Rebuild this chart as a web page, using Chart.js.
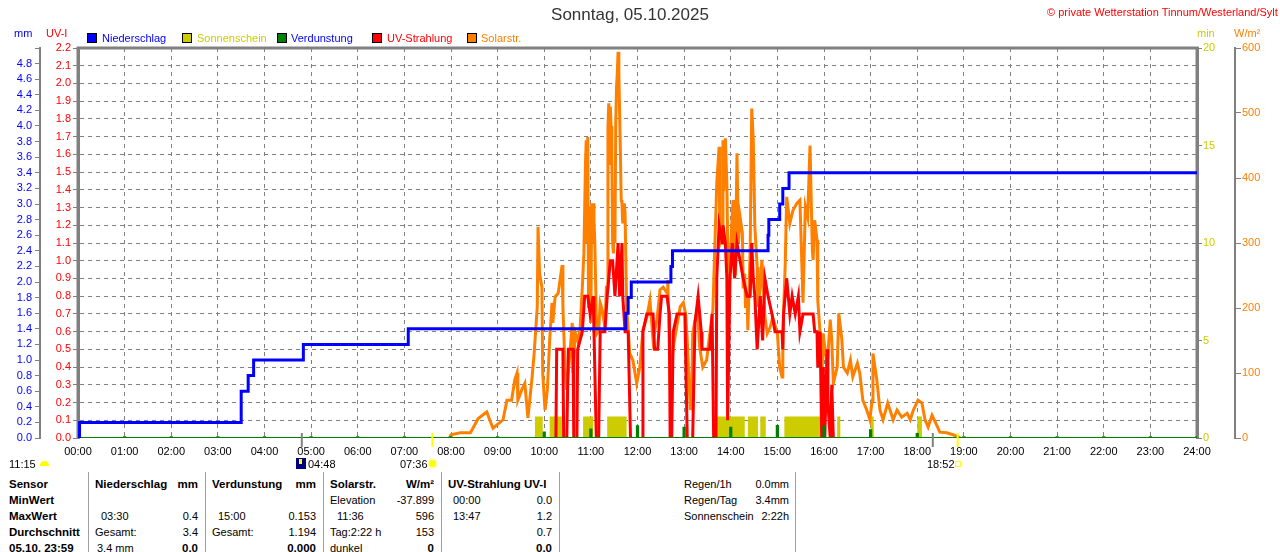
<!DOCTYPE html>
<html>
<head>
<meta charset="utf-8">
<script src="https://cdn.jsdelivr.net/npm/chart.js@4.4.0/dist/chart.umd.min.js"></script>
<style>
  body { margin: 0; background: #fff; font-family: "Liberation Sans", Arial, sans-serif; }
  #wrap { position: relative; width: 1280px; height: 552px; overflow: hidden; background: #fff; }
  #chartBox { position: absolute; left: 0; top: 0; }
  .t { position: absolute; white-space: nowrap; font-size: 11px; line-height: 14px; }
  .b { font-weight: bold; font-size: 11.5px; }
  .r { text-align: right; width: 200px; }
  .sep { position: absolute; top: 472px; height: 80px; width: 1px; background: #a0a0a0; }
  .box { position: absolute; top: 33px; width: 8px; height: 8px; border: 1px solid #000; }
</style>
</head>
<body>
<div id="wrap">
  <canvas id="chartBox" width="1280" height="472"></canvas>

  <div class="t" style="left:0;width:1260px;text-align:center;top:5px;font-size:17px;line-height:20px;color:#333">Sonntag, 05.10.2025</div>
  <div class="t" style="left:1047px;top:5px;color:#FF0000">© private Wetterstation Tinnum/Westerland/Sylt</div>

  <div class="t" style="left:14px;top:26px;color:#0000FF">mm</div>
  <div class="t" style="left:46px;top:26px;color:#FF0000">UV-I</div>
  <div class="t" style="left:1197px;top:26px;color:#CCCC00">min</div>
  <div class="t" style="left:1234px;top:26px;color:#FF8000">W/m²</div>

  <div class="box" style="left:87px;background:#0000FF"></div>
  <div class="t" style="left:102px;top:31px;color:#0000FF">Niederschlag</div>
  <div class="box" style="left:182px;background:#CCCC00"></div>
  <div class="t" style="left:197px;top:31px;color:#CCCC00">Sonnenschein</div>
  <div class="box" style="left:277px;background:#008000"></div>
  <div class="t" style="left:291px;top:31px;color:#0000FF">Verdunstung</div>
  <div class="box" style="left:372px;background:#FF0000"></div>
  <div class="t" style="left:387px;top:31px;color:#FF0000">UV-Strahlung</div>
  <div class="box" style="left:467px;background:#FF8000"></div>
  <div class="t" style="left:481px;top:31px;color:#FF8000">Solarstr.</div>

  <div class="t" style="left:9px;top:457px">11:15</div>
  <div style="position:absolute;left:40px;top:461px;width:9px;height:5px;border-radius:5px 5px 0 0;background:#FFFF00"></div>
  <div style="position:absolute;left:296px;top:458px;width:10px;height:11px;background:#00007F"></div>
  <div style="position:absolute;left:299px;top:459px;width:3px;height:5px;background:#FFFF00"></div>
  <div class="t" style="left:308px;top:457px">04:48</div>
  <div class="t" style="left:400px;top:457px">07:36</div>
  <div style="position:absolute;left:429px;top:460px;width:7px;height:7px;border-radius:50%;background:#FFFF00;box-shadow:0 0 2px 1px #FFFF90"></div>
  <div class="t" style="left:927px;top:457px">18:52</div>
  <div style="position:absolute;left:955px;top:461px;width:4px;height:4px;border:1px solid #FFFF00"></div>

  <div id="table"></div>
</div>

<script>
// Stundenbeschriftung der Zeitachse
const hourTicks = ['00:00','01:00','02:00','03:00','04:00','05:00','06:00','07:00','08:00','09:00','10:00','11:00',
  '12:00','13:00','14:00','15:00','16:00','17:00','18:00','19:00','20:00','21:00','22:00','23:00','24:00'];

// Niederschlag, Tagessumme in mm (Zeit in Minuten nach Mitternacht)
const rainMin = [0, 2, 210, 219, 226, 290, 425, 705, 708, 712, 763, 765, 888, 889, 903, 907, 915, 1440];
const rainMm  = [0, 0.2, 0.6, 0.8, 1.0, 1.2, 1.4, 1.6, 1.8, 2.0, 2.2, 2.4, 2.6, 2.8, 3.0, 3.2, 3.4, 3.4];

// Verdunstung je Stunde in mm
const evapHour = [1,2,3,4,5,6,7,8,9,10,11,12,13,14,15,16,17,18,19,20,21,22,23,24];
const evapMm   = [0.01,0.01,0.01,0.01,0.01,0.01,0.01,0.01,0.01,0.07,0.11,0.15,0.13,0.13,0.153,0.15,0.10,0.05,
  0.01,0.01,0.01,0.01,0.01,0.01];

// Sonnenschein, Abschnitte (Minuten) und Hoehe in min
const sunStart = [588, 607, 650, 681, 822, 862, 878, 909, 977, 1020, 1080];
const sunEnd   = [598, 623, 663, 706, 858, 875, 885, 955, 981, 1024, 1086];
const sunHeight = 1.1;

// UV-Index
const uvMin = [0,615,616,624,625,629,631,637,638,642,643,649,652,656,659,663,664,667,670,672,678,681,685,688,691,695,697,700,701,
  704,708,711,726,727,732,740,742,746,749,751,758,761,762,764,766,771,781,784,791,794,798,802,803,813,816,817,818,821,822,825,
  829,830,833,835,836,839,842,845,848,852,856,861,865,867,869,871,874,878,881,884,888,893,897,906,907,908,912,914,916,919,923,
  927,929,933,938,942,946,948,951,952,955,957,959,961,964,965,968,970,972,1440];
const uvIdx = [0,0,0.5,0.5,0,0,0.5,0.5,0,0,0.5,0.6,0.8,0.8,0.7,0.8,0.6,0,0,0.6,0.6,0.8,1.0,1.0,0.8,1.1,0.8,1.1,0.8,
  0.6,0.6,0,0,0.6,0.7,0.7,0.5,0.5,0.7,0.8,0.8,0.7,0,0,0.6,0.7,0.7,0,0,0.65,0.8,0.6,0.5,0.5,0.7,0.7,0,0,0.9,1.2,
  1.1,1.2,1.1,0.9,0.1,0.9,1.1,0.9,1.1,1.0,0.9,0.8,0.8,1.1,0.9,0.8,0.5,0.8,0.55,0.9,0.8,0.7,0.6,0.6,0.5,0.7,0.9,0.8,0.7,0.8,0.7,
  0.8,0.6,0.7,0.7,0.7,0.7,0.6,0.6,0.4,0.6,0,0.4,0,0.5,0.2,0,0.3,0,0];

// Solarstrahlung in W/m²
const solarMin = [0,478,480,492,505,515,526,534,547,552,558,562,565,566,571,575,579,584,587,591,592,594,597,598,601,604,607,610,611,
  614,618,623,624,627,629,633,636,637,640,643,646,649,651,653,654,655,656,657,658,659,660,661,662,663,664,665,667,668,670,672,674,
  676,678,680,681,682,683,684,685,686,687,688,689,690,691,692,693,694,695,696,697,698,699,700,701,703,704,706,710,714,719,723,727,
  732,736,740,745,749,753,758,759,762,766,775,779,782,784,788,790,791,797,800,804,809,813,817,822,825,826,829,830,831,833,835,836,
  837,839,841,843,844,846,848,849,850,852,855,856,858,859,861,862,865,867,869,871,874,875,878,880,884,887,891,894,900,903,906,907,
  910,912,916,920,925,929,933,936,939,942,945,946,948,951,952,955,957,959,964,968,970,972,977,979,983,985,990,994,997,1003,1006,
  1010,1015,1019,1022,1023,1028,1032,1036,1042,1049,1054,1060,1067,1071,1075,1081,1086,1090,1094,1099,1103,1109,1118,1126,1133,
  1135,1440];
const solarW = [0,0,5,8,8,30,40,15,28,58,58,89,100,58,74,84,31,89,130,202,325,253,232,100,43,74,151,208,177,
  217,223,266,202,100,74,130,177,100,161,150,166,232,284,420,458,300,463,200,356,253,177,361,300,361,335,305,187,161,165,208,200,
  186,171,232,232,479,515,420,510,480,433,300,284,356,300,484,540,561,594,561,500,438,366,361,330,361,346,202,130,120,84,109,166,
  186,212,151,182,228,232,223,243,80,140,202,208,190,151,43,84,161,200,140,109,120,161,197,392,448,300,315,458,380,461,392,300,
  250,263,320,366,280,250,438,366,300,340,315,230,253,200,223,166,289,507,458,325,263,202,232,274,186,161,171,186,161,109,94,161,
  263,371,330,350,361,366,208,356,340,450,289,274,335,305,212,161,84,161,109,182,151,84,109,192,151,109,100,120,94,115,100,
  58,43,28,58,130,89,43,28,54,28,43,32,38,28,43,58,54,28,17,35,25,9,8,5,2,
  0,0];

// Sonnenauf-/untergang und Mond (Minuten)
const sunMarks = [456, 1132];
const moonMarks = [288, 1100];

const xy = (xs, ys) => xs.map((x, i) => ({ x: x, y: ys[i] }));

const evapData = [{ x: 0, y: 0 }];
evapHour.forEach((h, i) => {
  const t = h * 60;
  evapData.push({ x: t - 0.8, y: 0 }, { x: t - 0.8, y: evapMm[i] }, { x: t + 0.8, y: evapMm[i] }, { x: t + 0.8, y: 0 });
});

const sunData = [{ x: 0, y: 0 }];
sunStart.forEach((s, i) => {
  sunData.push({ x: s, y: 0 }, { x: s, y: sunHeight }, { x: sunEnd[i], y: sunHeight }, { x: sunEnd[i], y: 0 });
});
sunData.push({ x: 1440, y: 0 });

// flache Nullstrecken nicht zeichnen, dort liegt die Verdunstungslinie
const hideZero = ctx => (ctx.p0.parsed.y === 0 && ctx.p1.parsed.y === 0 ? 'rgba(0,0,0,0)' : undefined);

const framePlugin = {
  id: 'frame',
  beforeDatasetsDraw(chart) {
    const a = chart.chartArea, ctx = chart.ctx;
    ctx.save();
    ctx.strokeStyle = '#808080';
    ctx.lineWidth = 3;
    ctx.beginPath();
    ctx.moveTo(a.left, a.bottom);
    ctx.lineTo(a.left, a.top);
    ctx.lineTo(a.right, a.top);
    ctx.lineTo(a.right, a.bottom);
    ctx.stroke();
    ctx.restore();
  },
  afterDraw(chart) {
    const ctx = chart.ctx, x = chart.scales.x, b = chart.chartArea.bottom;
    ctx.save();
    ctx.lineWidth = 2;
    ctx.strokeStyle = '#808080';
    moonMarks.forEach(t => { const px = x.getPixelForValue(t); ctx.beginPath(); ctx.moveTo(px, b - 5); ctx.lineTo(px, b + 9); ctx.stroke(); });
    ctx.strokeStyle = '#FFFF00';
    sunMarks.forEach(t => { const px = x.getPixelForValue(t); ctx.beginPath(); ctx.moveTo(px, b - 5); ctx.lineTo(px, b + 9); ctx.stroke(); });
    ctx.restore();
  }
};

const tickFont = { family: '"Liberation Sans", Arial, sans-serif', size: 11 };

new Chart(document.getElementById('chartBox'), {
  type: 'line',
  data: {
    datasets: [
      { label: 'Niederschlag', data: xy(rainMin, rainMm), yAxisID: 'mm', stepped: 'before',
        borderColor: '#0000FF', borderWidth: 3, pointRadius: 0, order: 1 },
      { label: 'Verdunstung', data: evapData, yAxisID: 'mm',
        borderColor: '#008000', borderWidth: 2, pointRadius: 0, order: 2 },
      { label: 'UV-Strahlung', data: xy(uvMin, uvIdx), yAxisID: 'uv',
        borderColor: '#FF0000', borderWidth: 3, pointRadius: 0, order: 3,
        segment: { borderColor: hideZero } },
      { label: 'Solarstr.', data: xy(solarMin, solarW), yAxisID: 'wm',
        borderColor: '#FF8000', borderWidth: 3, pointRadius: 0, order: 4,
        segment: { borderColor: hideZero } },
      { label: 'Sonnenschein', data: sunData, yAxisID: 'min', fill: 'origin',
        backgroundColor: '#CCCC00', borderColor: 'rgba(0,0,0,0)', borderWidth: 0, pointRadius: 0, order: 5 }
    ]
  },
  options: {
    responsive: false,
    animation: false,
    layout: { padding: { top: 48, left: 0, right: 0, bottom: 0 } },
    plugins: { legend: { display: false }, tooltip: { enabled: false } },
    scales: {
      x: {
        type: 'linear', min: 0, max: 1440,
        afterBuildTicks: s => { s.ticks = hourTicks.map((l, i) => ({ value: i * 60 })); },
        ticks: { callback: v => hourTicks[Math.round(v / 60)], color: '#000', font: tickFont, padding: 7,
          maxRotation: 0, autoSkip: false },
        grid: { color: '#808080', lineWidth: 1, drawTicks: false },
        border: { display: false, dash: [4, 4] },
        afterFit: s => { s.height = 34; }
      },
      mm: {
        position: 'left', weight: 1, min: 0, max: 5,
        ticks: { stepSize: 0.2, color: '#0000FF', font: tickFont, autoSkip: false, padding: 3,
          callback: v => (v > 4.85 ? '' : v.toFixed(1)) },
        grid: { drawOnChartArea: false, color: '#808080', tickLength: 5 },
        border: { display: true, color: '#808080', width: 2 },
        afterFit: s => { s.width = 40; }
      },
      uv: {
        position: 'left', weight: 0, min: 0, max: 2.2,
        ticks: { stepSize: 0.1, color: '#FF0000', font: tickFont, autoSkip: false, padding: 2,
          callback: v => v.toFixed(1) },
        grid: { color: ctx => (ctx.tick && ctx.tick.value === 0 ? 'rgba(0,0,0,0)' : '#808080'), lineWidth: 1,
          tickLength: 5, tickColor: '#808080' },
        border: { display: true, color: '#808080', width: 3, dash: [4, 4] },
        afterFit: s => { s.width = 38; }
      },
      min: {
        position: 'right', weight: 0, min: 0, max: 20,
        ticks: { stepSize: 5, color: '#CCCC00', font: tickFont, padding: 1 },
        grid: { drawOnChartArea: false, color: '#808080', tickLength: 5 },
        border: { display: true, color: '#808080', width: 3 },
        afterFit: s => { s.width = 38; }
      },
      wm: {
        position: 'right', weight: 1, min: 0, max: 600,
        ticks: { stepSize: 100, color: '#FF8000', font: tickFont, padding: 1 },
        grid: { drawOnChartArea: false, color: '#808080', tickLength: 6 },
        border: { display: true, color: '#808080', width: 2 },
        afterFit: s => { s.width = 45; }
      }
    }
  },
  plugins: [framePlugin]
});

// Tabelle unter dem Diagramm
const rowY = [484, 500, 516, 532, 548];
const cells = [
  [9,0,'Sensor','b'], [9,1,'MinWert','b'], [9,2,'MaxWert','b'], [9,3,'Durchschnitt','b'], [9,4,'05.10. 23:59','b'],
  [95,0,'Niederschlag','b'], [198,0,'mm','br'],
  [101,2,'03:30',''], [198,2,'0.4','r'],
  [95,3,'Gesamt:',''], [198,3,'3.4','r'],
  [97,4,'3.4 mm',''], [198,4,'0.0','br'],
  [212,0,'Verdunstung','b'], [316,0,'mm','br'],
  [218,2,'15:00',''], [316,2,'0.153','r'],
  [212,3,'Gesamt:',''], [316,3,'1.194','r'],
  [316,4,'0.000','br'],
  [330,0,'Solarstr.','b'], [434,0,'W/m²','br'],
  [330,1,'Elevation',''], [434,1,'-37.899','r'],
  [337,2,'11:36',''], [434,2,'596','r'],
  [330,3,'Tag:2:22 h',''], [434,3,'153','r'],
  [330,4,'dunkel',''], [434,4,'0','br'],
  [448,0,'UV-Strahlung UV-I','b'],
  [453,1,'00:00',''], [552,1,'0.0','r'],
  [453,2,'13:47',''], [552,2,'1.2','r'],
  [552,3,'0.7','r'],
  [552,4,'0.0','br'],
  [684,0,'Regen/1h',''], [789,0,'0.0mm','r'],
  [684,1,'Regen/Tag',''], [789,1,'3.4mm','r'],
  [684,2,'Sonnenschein',''], [789,2,'2:22h','r']
];
const table = document.getElementById('table');
cells.forEach(([x, row, text, cls]) => {
  const d = document.createElement('div');
  d.className = 't' + (cls.includes('b') ? ' b' : '') + (cls.includes('r') ? ' r' : '');
  d.style.top = (rowY[row] - 7) + 'px';
  d.style.left = (cls.includes('r') ? x - 200 : x) + 'px';
  d.textContent = text;
  table.appendChild(d);
});
[88, 205, 323, 441, 559, 795].forEach(x => {
  const s = document.createElement('div');
  s.className = 'sep';
  s.style.left = x + 'px';
  table.appendChild(s);
});
</script>
</body>
</html>
